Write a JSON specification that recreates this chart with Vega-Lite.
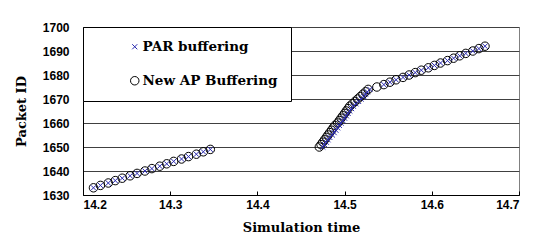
{
  "$schema": "https://vega.github.io/schema/vega-lite/v6.json",
  "width": 436,
  "height": 168,
  "autosize": {"type": "none"},
  "padding": {"left": 83, "top": 27, "right": 22, "bottom": 56},
  "background": "white",
  "data": {"values": [
    {"series": "New AP Buffering", "t": 14.212, "id": 1633},
    {"series": "New AP Buffering", "t": 14.220, "id": 1634},
    {"series": "New AP Buffering", "t": 14.229, "id": 1635},
    {"series": "New AP Buffering", "t": 14.237, "id": 1636},
    {"series": "New AP Buffering", "t": 14.245, "id": 1637},
    {"series": "New AP Buffering", "t": 14.254, "id": 1638},
    {"series": "New AP Buffering", "t": 14.262, "id": 1639},
    {"series": "New AP Buffering", "t": 14.271, "id": 1640},
    {"series": "New AP Buffering", "t": 14.279, "id": 1641},
    {"series": "New AP Buffering", "t": 14.288, "id": 1642},
    {"series": "New AP Buffering", "t": 14.296, "id": 1643},
    {"series": "New AP Buffering", "t": 14.304, "id": 1644},
    {"series": "New AP Buffering", "t": 14.313, "id": 1645},
    {"series": "New AP Buffering", "t": 14.321, "id": 1646},
    {"series": "New AP Buffering", "t": 14.330, "id": 1647},
    {"series": "New AP Buffering", "t": 14.338, "id": 1648},
    {"series": "New AP Buffering", "t": 14.346, "id": 1649},
    {"series": "New AP Buffering", "t": 14.471, "id": 1650},
    {"series": "New AP Buffering", "t": 14.473, "id": 1651},
    {"series": "New AP Buffering", "t": 14.475, "id": 1652},
    {"series": "New AP Buffering", "t": 14.477, "id": 1653},
    {"series": "New AP Buffering", "t": 14.479, "id": 1654},
    {"series": "New AP Buffering", "t": 14.481, "id": 1655},
    {"series": "New AP Buffering", "t": 14.483, "id": 1656},
    {"series": "New AP Buffering", "t": 14.485, "id": 1657},
    {"series": "New AP Buffering", "t": 14.487, "id": 1658},
    {"series": "New AP Buffering", "t": 14.489, "id": 1659},
    {"series": "New AP Buffering", "t": 14.492, "id": 1660},
    {"series": "New AP Buffering", "t": 14.494, "id": 1661},
    {"series": "New AP Buffering", "t": 14.496, "id": 1662},
    {"series": "New AP Buffering", "t": 14.498, "id": 1663},
    {"series": "New AP Buffering", "t": 14.500, "id": 1664},
    {"series": "New AP Buffering", "t": 14.502, "id": 1665},
    {"series": "New AP Buffering", "t": 14.504, "id": 1666},
    {"series": "New AP Buffering", "t": 14.506, "id": 1667},
    {"series": "New AP Buffering", "t": 14.509, "id": 1668},
    {"series": "New AP Buffering", "t": 14.512, "id": 1669},
    {"series": "New AP Buffering", "t": 14.515, "id": 1670},
    {"series": "New AP Buffering", "t": 14.518, "id": 1671},
    {"series": "New AP Buffering", "t": 14.521, "id": 1672},
    {"series": "New AP Buffering", "t": 14.524, "id": 1673},
    {"series": "New AP Buffering", "t": 14.527, "id": 1674},
    {"series": "New AP Buffering", "t": 14.537, "id": 1675},
    {"series": "New AP Buffering", "t": 14.545, "id": 1676},
    {"series": "New AP Buffering", "t": 14.552, "id": 1677},
    {"series": "New AP Buffering", "t": 14.559, "id": 1678},
    {"series": "New AP Buffering", "t": 14.567, "id": 1679},
    {"series": "New AP Buffering", "t": 14.574, "id": 1680},
    {"series": "New AP Buffering", "t": 14.581, "id": 1681},
    {"series": "New AP Buffering", "t": 14.588, "id": 1682},
    {"series": "New AP Buffering", "t": 14.596, "id": 1683},
    {"series": "New AP Buffering", "t": 14.603, "id": 1684},
    {"series": "New AP Buffering", "t": 14.610, "id": 1685},
    {"series": "New AP Buffering", "t": 14.618, "id": 1686},
    {"series": "New AP Buffering", "t": 14.625, "id": 1687},
    {"series": "New AP Buffering", "t": 14.632, "id": 1688},
    {"series": "New AP Buffering", "t": 14.639, "id": 1689},
    {"series": "New AP Buffering", "t": 14.647, "id": 1690},
    {"series": "New AP Buffering", "t": 14.654, "id": 1691},
    {"series": "New AP Buffering", "t": 14.661, "id": 1692},
    {"series": "PAR buffering", "t": 14.212, "id": 1633},
    {"series": "PAR buffering", "t": 14.220, "id": 1634},
    {"series": "PAR buffering", "t": 14.229, "id": 1635},
    {"series": "PAR buffering", "t": 14.237, "id": 1636},
    {"series": "PAR buffering", "t": 14.245, "id": 1637},
    {"series": "PAR buffering", "t": 14.254, "id": 1638},
    {"series": "PAR buffering", "t": 14.262, "id": 1639},
    {"series": "PAR buffering", "t": 14.271, "id": 1640},
    {"series": "PAR buffering", "t": 14.279, "id": 1641},
    {"series": "PAR buffering", "t": 14.288, "id": 1642},
    {"series": "PAR buffering", "t": 14.296, "id": 1643},
    {"series": "PAR buffering", "t": 14.304, "id": 1644},
    {"series": "PAR buffering", "t": 14.313, "id": 1645},
    {"series": "PAR buffering", "t": 14.321, "id": 1646},
    {"series": "PAR buffering", "t": 14.330, "id": 1647},
    {"series": "PAR buffering", "t": 14.338, "id": 1648},
    {"series": "PAR buffering", "t": 14.346, "id": 1649},
    {"series": "PAR buffering", "t": 14.475, "id": 1650},
    {"series": "PAR buffering", "t": 14.477, "id": 1651},
    {"series": "PAR buffering", "t": 14.479, "id": 1652},
    {"series": "PAR buffering", "t": 14.481, "id": 1653},
    {"series": "PAR buffering", "t": 14.483, "id": 1654},
    {"series": "PAR buffering", "t": 14.486, "id": 1655},
    {"series": "PAR buffering", "t": 14.488, "id": 1656},
    {"series": "PAR buffering", "t": 14.490, "id": 1657},
    {"series": "PAR buffering", "t": 14.492, "id": 1658},
    {"series": "PAR buffering", "t": 14.494, "id": 1659},
    {"series": "PAR buffering", "t": 14.496, "id": 1660},
    {"series": "PAR buffering", "t": 14.498, "id": 1661},
    {"series": "PAR buffering", "t": 14.500, "id": 1662},
    {"series": "PAR buffering", "t": 14.502, "id": 1663},
    {"series": "PAR buffering", "t": 14.504, "id": 1664},
    {"series": "PAR buffering", "t": 14.506, "id": 1665},
    {"series": "PAR buffering", "t": 14.508, "id": 1666},
    {"series": "PAR buffering", "t": 14.510, "id": 1667},
    {"series": "PAR buffering", "t": 14.513, "id": 1668},
    {"series": "PAR buffering", "t": 14.516, "id": 1669},
    {"series": "PAR buffering", "t": 14.519, "id": 1670},
    {"series": "PAR buffering", "t": 14.522, "id": 1671},
    {"series": "PAR buffering", "t": 14.524, "id": 1672},
    {"series": "PAR buffering", "t": 14.526, "id": 1673},
    {"series": "PAR buffering", "t": 14.529, "id": 1674},
    {"series": "PAR buffering", "t": 14.545, "id": 1676},
    {"series": "PAR buffering", "t": 14.552, "id": 1677},
    {"series": "PAR buffering", "t": 14.559, "id": 1678},
    {"series": "PAR buffering", "t": 14.567, "id": 1679},
    {"series": "PAR buffering", "t": 14.574, "id": 1680},
    {"series": "PAR buffering", "t": 14.581, "id": 1681},
    {"series": "PAR buffering", "t": 14.588, "id": 1682},
    {"series": "PAR buffering", "t": 14.596, "id": 1683},
    {"series": "PAR buffering", "t": 14.603, "id": 1684},
    {"series": "PAR buffering", "t": 14.610, "id": 1685},
    {"series": "PAR buffering", "t": 14.618, "id": 1686},
    {"series": "PAR buffering", "t": 14.625, "id": 1687},
    {"series": "PAR buffering", "t": 14.632, "id": 1688},
    {"series": "PAR buffering", "t": 14.639, "id": 1689},
    {"series": "PAR buffering", "t": 14.647, "id": 1690},
    {"series": "PAR buffering", "t": 14.654, "id": 1691},
    {"series": "PAR buffering", "t": 14.661, "id": 1692}
  ]},
  "mark": {"type": "point", "filled": false, "strokeWidth": 1, "opacity": 1, "size": 72},
  "encoding": {
    "x": {
      "field": "t", "type": "quantitative",
      "scale": {"domain": [14.2, 14.7], "nice": false, "zero": false},
      "axis": {
        "title": "Simulation time", "values": [14.2, 14.3, 14.4, 14.5, 14.6, 14.7],
        "format": ".1f", "grid": false, "tickSize": -4, "tickColor": "#000000",
        "domainColor": "#000000", "labelPadding": 8,
        "labelFont": "Liberation Sans", "labelFontWeight": "bold", "labelFontSize": 12, "labelColor": "#000000",
        "titleFont": "DejaVu Serif", "titleFontWeight": "bold", "titleFontSize": 13, "titleColor": "#000000",
        "titlePadding": 11
      }
    },
    "y": {
      "field": "id", "type": "quantitative",
      "scale": {"domain": [1630, 1700], "nice": false, "zero": false},
      "axis": {
        "title": "Packet ID", "values": [1630, 1640, 1650, 1660, 1670, 1680, 1690, 1700],
        "format": "d",
        "grid": true, "gridColor": "#404040", "gridOpacity": 1, "gridWidth": 1,
        "ticks": false, "domainColor": "#000000", "labelPadding": 14,
        "labelFont": "Liberation Sans", "labelFontWeight": "bold", "labelFontSize": 12, "labelColor": "#000000",
        "titleFont": "DejaVu Serif", "titleFontWeight": "bold", "titleFontSize": 13, "titleColor": "#000000",
        "titlePadding": 14
      }
    },
    "shape": {
      "field": "series", "type": "nominal",
      "scale": {"domain": ["PAR buffering", "New AP Buffering"], "range": ["M-0.6,-0.6L0.6,0.6M0.6,-0.6L-0.6,0.6", "circle"]},
      "legend": {
        "title": null, "orient": "none", "legendX": 0, "legendY": 0,
        "padding": 13, "rowPadding": 19, "symbolOffset": 32, "labelOffset": 1,
        "strokeColor": "#000000", "fillColor": "#ffffff",
        "labelFont": "DejaVu Serif", "labelFontWeight": "bold", "labelFontSize": 13.5, "labelColor": "#000000",
        "symbolSize": 72, "symbolStrokeWidth": 1
      }
    },
    "color": {
      "field": "series", "type": "nominal",
      "scale": {"domain": ["PAR buffering", "New AP Buffering"], "range": ["#2a2ab0", "#000000"]}
    }
  },
  "config": {
    "view": {"stroke": "#808080", "strokeWidth": 1}
  }
}
